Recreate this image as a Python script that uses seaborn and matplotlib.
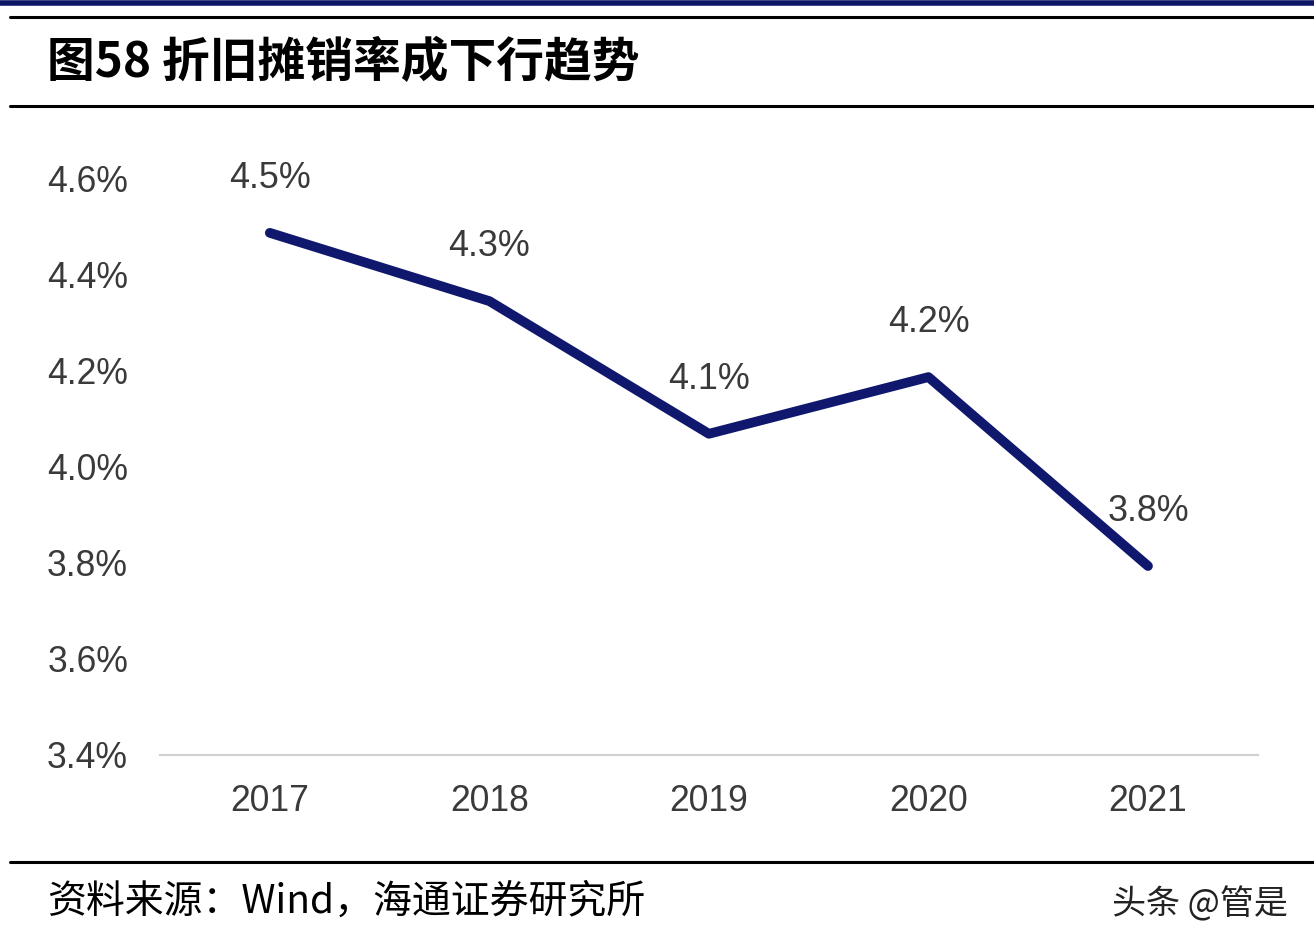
import matplotlib
matplotlib.use("Agg")
import matplotlib.pyplot as plt
from matplotlib.lines import Line2D
import seaborn as sns
import pandas as pd

# data
years = ["2017", "2018", "2019", "2020", "2021"]
rate = [4.486, 4.344, 4.068, 4.186, 3.793]   # depreciation & amortization rate, %
yticks = [3.4, 3.6, 3.8, 4.0, 4.2, 4.4, 4.6]

title = "图58 折旧摊销率成下行趋势"
source = "资料来源：Wind，海通证券研究所"
watermark = "头条 @管是"

sns.set_theme(style="white")
plt.rcParams["font.family"] = ["Liberation Sans", "Noto Sans CJK SC", "DejaVu Sans"]

df = pd.DataFrame({"year": years, "rate": rate})

fig = plt.figure(figsize=(13.14, 9.5), dpi=100)
ax = fig.add_axes([0.1218, 0.2053, 0.8354, 0.6073])

sns.lineplot(data=df, x="year", y="rate", ax=ax, color="#10186e",
             linewidth=7, sort=False)
for ln in ax.lines:
    ln.set_solid_capstyle("round")
    ln.set_solid_joinstyle("round")

# value labels above each point
for i, v in enumerate(rate):
    ax.annotate(f"{v:.1f}%", (i, v), xytext=(0, 39), textcoords="offset points",
                ha="center", va="center", fontsize=25.8, color="#3a3a3a",
                fontfamily="Liberation Sans")

ax.set_xlim(-0.5, len(years) - 0.5)
ax.set_ylim(yticks[0], yticks[-1])
ax.set_yticks(yticks)
ax.set_yticklabels([f"{t:.1f}%" for t in yticks])
ax.set_xlabel("")
ax.set_ylabel("")
ax.tick_params(axis="y", length=0, pad=23, labelsize=25.6, labelcolor="#3a3a3a")
ax.tick_params(axis="x", length=0, pad=21, labelsize=25.6, labelcolor="#3a3a3a")
for s in ["top", "right", "left"]:
    ax.spines[s].set_visible(False)
ax.spines["bottom"].set_color("#d0d0d0")
ax.spines["bottom"].set_linewidth(1.5)
ax.grid(False)
ax.set_facecolor("none")

# frame lines of the report figure
fig.add_artist(Line2D([0, 1], [1 - 2.5 / 950] * 2, color="#0d1566", linewidth=4,
                      transform=fig.transFigure))
for yy in [17, 106, 862]:
    fig.add_artist(Line2D([10 / 1314, 1], [1 - yy / 950] * 2, color="black",
                          linewidth=2.2, transform=fig.transFigure))

fig.text(47 / 1314, 1 - 63 / 950, title, fontsize=34.4, fontweight="bold",
         ha="left", va="center", color="black",
         fontfamily=["Noto Sans CJK SC", "DejaVu Sans"])
fig.text(47 / 1314, 1 - 902 / 950, source, fontsize=28, ha="left", va="center",
         color="black", fontfamily=["Noto Sans CJK SC", "DejaVu Sans"])
fig.text(1288 / 1314, 1 - 905 / 950, watermark, fontsize=24.5, ha="right",
         va="center", color="#222222",
         fontfamily=["Noto Sans CJK SC", "DejaVu Sans"])

fig.savefig("out.png", dpi=100)
plt.close(fig)
